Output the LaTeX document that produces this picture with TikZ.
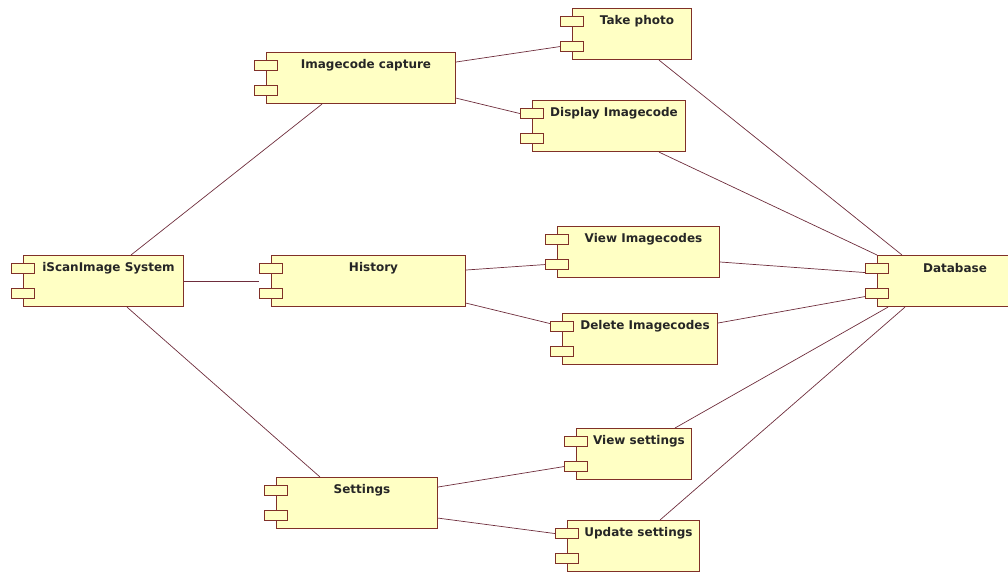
\documentclass[tikz,border=0pt]{standalone}
\usepackage{fontspec}
\setmainfont{DejaVu Sans}
\usetikzlibrary{calc}
\definecolor{boxfill}{RGB}{255,255,196}
\definecolor{boxline}{RGB}{128,48,40}
\definecolor{conn}{RGB}{110,45,60}
\tikzset{
  box/.style={draw=boxline, fill=boxfill, line width=1.1pt, rectangle, inner sep=0pt, anchor=north west, minimum height=51pt},
  tabbox/.style={draw=boxline, fill=boxfill, line width=1.1pt, rectangle, inner sep=0pt, anchor=north west, minimum width=23pt, minimum height=10pt},
  lbl/.style={font=\fontsize{12}{14}\selectfont\bfseries, text=black!85, inner sep=0pt},
  conn/.style={draw=conn, line width=0.7pt}
}
% #1 name, #2 x, #3 y, #4 width, #5 text
\newcommand\compo[5]{%
  \node[box, minimum width=#4pt] (#1) at (#2,#3) {};
  \node[tabbox] (#1-a) at ($(#1.north west)+(-12,8)$) {};
  \node[tabbox] (#1-b) at ($(#1.north west)+(-12,33)$) {};
  \node[lbl] (#1-l) at ($(#1.north west)+({(#4+11)/2},13)$) {#5};
}
\begin{document}
\begin{tikzpicture}[x=1pt,y=-1pt]
\useasboundingbox (0,0) rectangle (1008,573);
\clip (0,0) rectangle (1008,573);
% boxes
\compo{sys}{23}{255}{160}{iScanImage System}
\compo{cap}{266}{52}{189}{Imagecode capture}
\compo{take}{572}{8}{119}{Take photo}
\compo{disp}{532}{100}{153}{Display Imagecode}
\compo{hist}{271}{255}{194}{History}
\compo{viewic}{557}{226}{162}{View Imagecodes}
\compo{delic}{562}{313}{155}{Delete Imagecodes}
\compo{set}{276}{477}{161}{Settings}
\compo{viewset}{576}{428}{115}{View settings}
\compo{upd}{567}{520}{132}{Update settings}
\compo{db}{877}{255}{145}{Database}
% connectors
\draw[conn] ($(sys.north west)+(108,0)$) -- ($(cap.south west)+(56,0)$);
\draw[conn] (sys.east) -- (sys.east -| hist-a.west);
\draw[conn] ($(sys.south west)+(104,0)$) -- ($(set.north west)+(44,0)$);
\draw[conn] ($(cap.north east)+(0,10)$) -- (take-b.west);
\draw[conn] ($(cap.south east)+(0,-6)$) -- (disp-a.west);
\draw[conn] ($(hist.north east)+(0,15)$) -- (viewic-b.west);
\draw[conn] ($(hist.south east)+(0,-4)$) -- ($(delic-a.west)+(0,-3)$);
\draw[conn] ($(set.north east)+(0,10)$) -- (viewset-b.west);
\draw[conn] ($(set.south east)+(0,-11)$) -- (upd-a.west);
\draw[conn] ($(take.south west)+(87,0)$) -- ($(db.north west)+(25,0)$);
\draw[conn] ($(disp.south west)+(127,0)$) -- (db.north west);
\draw[conn] ($(viewic.north east)+(0,36)$) -- ($(db-a.west)+(0,4)$);
\draw[conn] ($(delic.north east)+(0,10)$) -- ($(db-b.west)+(0,3)$);
\draw[conn] ($(viewset.north west)+(99,0)$) -- ($(db.south west)+(11,0)$);
\draw[conn] ($(upd.north west)+(93,0)$) -- ($(db.south west)+(28,0)$);
\end{tikzpicture}
\end{document}
